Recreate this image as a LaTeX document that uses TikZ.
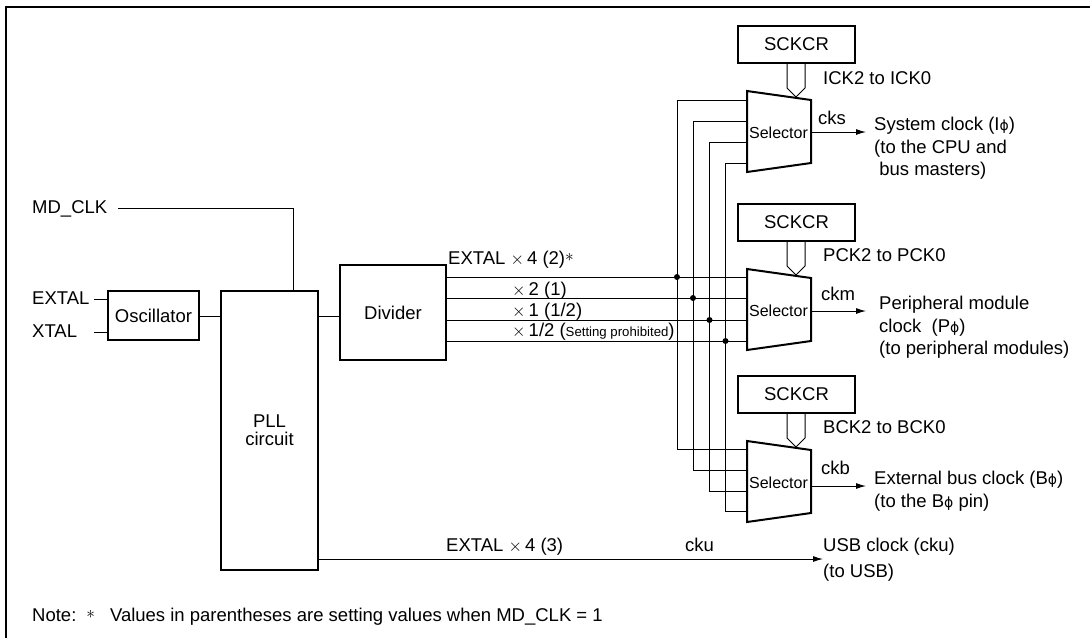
\documentclass[tikz,border=0pt]{standalone}
\usepackage{fontspec}
\setmainfont{Liberation Sans}
\newfontfamily\phifont{DejaVu Sans}
\newcommand{\phisym}{{\phifont\fontsize{14}{14}\selectfont ϕ}}
\newcommand{\astsym}{\raisebox{3pt}{$*$}}
\usetikzlibrary{arrows.meta}
\tikzset{
  x=1pt,y=-1pt,
  frame/.style={line width=2pt},
  block/.style={draw,line width=2pt,fill=white,inner sep=0pt,align=center,font=\fontsize{18.5}{18}\selectfont},
  wire/.style={line width=1pt},
  flow/.style={wire,-{Latex[length=10pt,width=6pt]}},
  dotmark/.style={circle,fill=black,inner sep=0pt,minimum size=6pt},
  lab/.style={inner sep=0pt,anchor=base west,font=\fontsize{18.5}{22.5}\selectfont,align=left},
  mux/.style={line width=2pt,line join=miter,fill=white},
  muxtext/.style={inner sep=0pt,font=\fontsize{16}{18}\selectfont},
  bus/.style={line width=1pt,line join=round},
}
\begin{document}
\begin{tikzpicture}
\useasboundingbox (0,0) rectangle (1090,638);
\draw[frame] (6,638) -- (6,6.5) -- (1090,6.5);
% blocks
\node[block,anchor=north west,minimum width=91pt,minimum height=49pt] (osc) at (107,290) {Oscillator};
\node[block,anchor=north west,minimum width=97pt,minimum height=279pt] (pll) at (220,290) {PLL\\circuit};
\node[block,anchor=north west,minimum width=106pt,minimum height=95pt] (div) at (339,264) {Divider};
\node[block,anchor=north west,minimum width=117pt,minimum height=37pt] (sck1) at (737,25) {SCKCR};
\node[block,anchor=north west,minimum width=117pt,minimum height=37pt] (sck2) at (737,203) {SCKCR};
\node[block,anchor=north west,minimum width=117pt,minimum height=37pt] (sck3) at (737,375) {SCKCR};
% named points
\coordinate (mdend) at (118,208);
\coordinate (ext) at (94,299);
\coordinate (xt) at (94,332);
\coordinate (o1) at (866,132);
\coordinate (o2) at (866,311);
\coordinate (o3) at (866,486);
\coordinate (usb) at (823,559);
% selector inputs
\foreach \xx/\ya/\yb/\yc/\dy in {677/100/277/449/277,693/121/298/470/298,709.5/142/320/491/320,725.5/163/341/511/341}{
  \draw[wire] (747,\ya) -- (\xx,\ya) -- (\xx,\yc) -- (747,\yc);
  \draw[wire] (445,\yb) -- (747,\yb);
  \node[dotmark] at (\xx,\dy) {};
}
% selectors
\draw[mux] (747,91) -- (811,100) -- (811,163) -- (747,172) -- cycle;
\draw[mux] (747,269) -- (811,278) -- (811,341) -- (747,350) -- cycle;
\draw[mux] (747,441) -- (811,450) -- (811,513) -- (747,522) -- cycle;
\node[muxtext] (s1) at (778.5,132.5) {Selector};
\node[muxtext] (s2) at (778.5,310.5) {Selector};
\node[muxtext] (s3) at (778.5,483) {Selector};
\coordinate (s1o) at (811,132); \coordinate (s2o) at (811,311); \coordinate (s3o) at (811,486);
% buses
\draw[bus] (787,62) -- (787,88) -- (796,97) -- (805,88) -- (805,62);
\draw[bus] (787,240) -- (787,266) -- (796,275) -- (805,266) -- (805,240);
\draw[bus] (787,412) -- (787,438) -- (796,447) -- (805,438) -- (805,412);
% wires
\draw[wire] (mdend) -- (293,208) -- (293,290);
\draw[wire] (ext) -- (107,299);
\draw[wire] (xt) -- (107,332);
\draw[wire] (osc.east |- 0,316) -- (pll.west |- 0,316);
\draw[wire] (pll.east |- 0,316) -- (div.west |- 0,316);
\draw[flow] (s1o) -- (o1);
\draw[flow] (s2o) -- (o2);
\draw[flow] (s3o) -- (o3);
\draw[flow] (pll.east |- 0,559) -- (usb);
% labels
\node[lab] (t1) at (32,213) {MD\_CLK};
\node[lab] (t2) at (32,304) {EXTAL};
\node[lab] (t3) at (32,337) {XTAL};
\node[lab] (t4) at (448,264) {EXTAL $\times$\,4 (2)\astsym};
\node[lab] (t5) at (512,295) {$\times$\,2 (1)};
\node[lab] (t6) at (512,316) {$\times$\,1 (1/2)};
\node[lab] (t7) at (512,336) {$\times$\,1/2 ({\fontsize{13.2}{14}\selectfont Setting prohibited})};
\node[lab] (t8) at (446,551) {EXTAL $\times$\,4 (3)};
\node[lab] (t9) at (685,551) {cku};
\node[lab] (t10) at (823,84) {ICK2 to ICK0};
\node[lab] (t11) at (823,261) {PCK2 to PCK0};
\node[lab] (t12) at (823,433) {BCK2 to BCK0};
\node[lab] (t13) at (818,124) {cks};
\node[lab] (t14) at (821,300) {ckm};
\node[lab] (t15) at (821,474) {ckb};
\node[lab,anchor=north west] (t16) at (874,117) {System clock (I\phisym)\\(to the CPU and\\ \ bus masters)};
\node[lab,anchor=north west] (t17) at (879,296) {Peripheral module\\clock~ (P\phisym)\\(to peripheral modules)};
\node[lab,anchor=north west] (t18) at (874,471) {External bus clock (B\phisym)\\(to the B\phisym{} pin)};
\node[lab,anchor=north west,font=\fontsize{18.5}{26}\selectfont] (t19) at (823,538) {USB clock (cku)\\(to USB)};
\node[lab] (t20) at (32,621.5) {Note:\hspace{10pt}\astsym\hspace{15pt}Values in parentheses are setting values when MD\_CLK = 1};
\end{tikzpicture}
\end{document}
